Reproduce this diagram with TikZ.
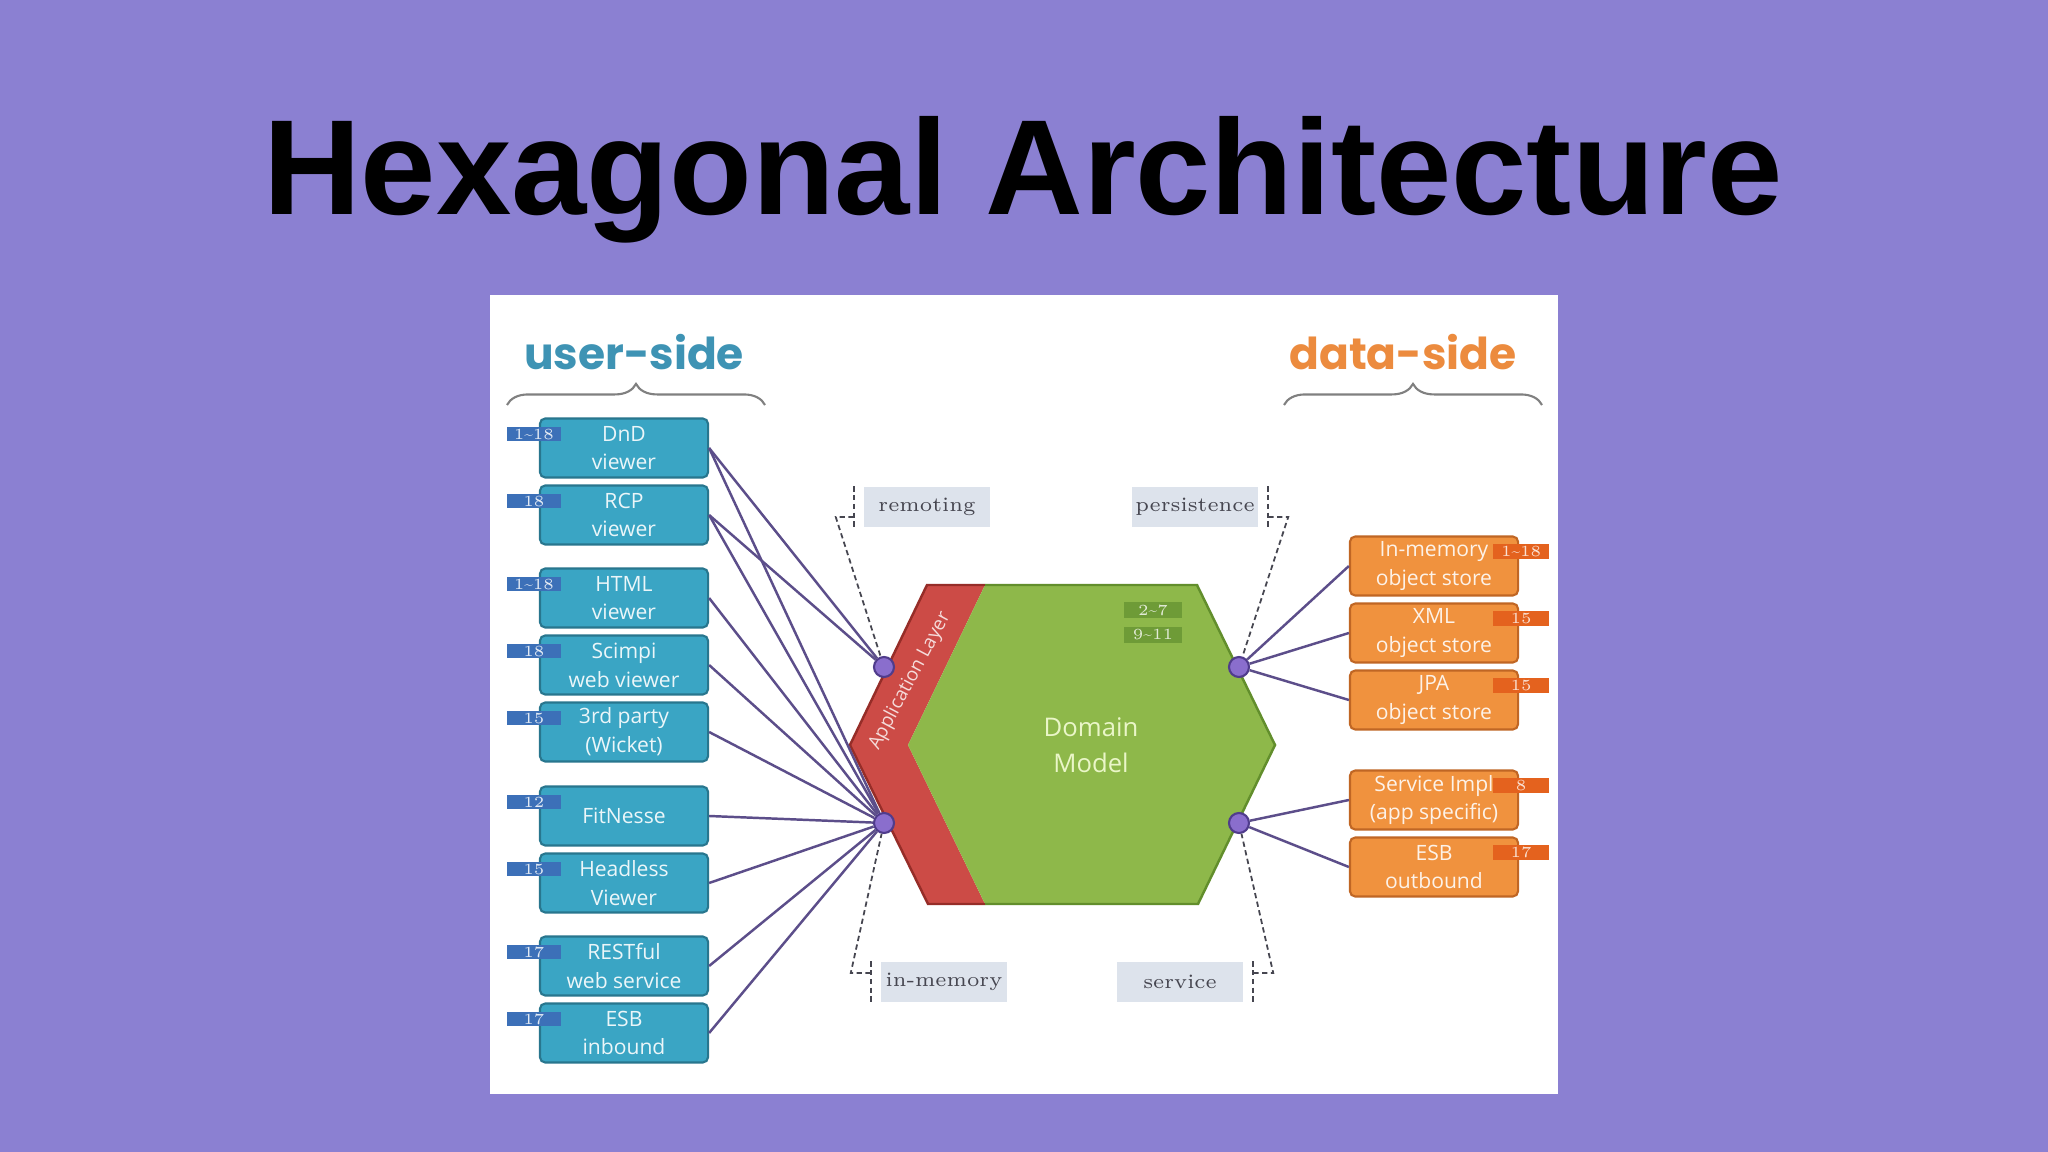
\documentclass[tikz,border=0pt]{standalone}
\usepackage{fontspec}
\usepackage{tikz}
\usetikzlibrary{calc}
\usetikzlibrary{decorations.pathreplacing}
\newfontfamily\titlefont{Liberation Sans}
\newfontfamily\boxfont{Open Sans}
\newfontfamily\headfont{Poppins}
\definecolor{slidepurple}{RGB}{139,128,210}
\definecolor{userteal}{RGB}{58,165,196}
\definecolor{userdark}{RGB}{40,118,142}
\definecolor{usertag}{RGB}{60,112,184}
\definecolor{userhead}{RGB}{62,147,180}
\definecolor{dataorange}{RGB}{240,146,62}
\definecolor{datadark}{RGB}{192,102,36}
\definecolor{datatag}{RGB}{228,98,30}
\definecolor{datahead}{RGB}{236,139,62}
\definecolor{domgreen}{RGB}{142,184,74}
\definecolor{domdark}{RGB}{98,142,44}
\definecolor{domtag}{RGB}{110,155,55}
\definecolor{domtext}{RGB}{234,246,200}
\definecolor{appred}{RGB}{204,75,70}
\definecolor{appdark}{RGB}{150,45,40}
\definecolor{portpurple}{RGB}{138,110,205}
\definecolor{portdark}{RGB}{80,60,140}
\definecolor{wirepurple}{RGB}{92,78,138}
\definecolor{labelgray}{RGB}{221,227,236}
\definecolor{labeltext}{RGB}{70,70,80}
\newcommand{\ubox}[4]{%
  \node[userbox] (#1) at (624,#2) {#4};
  \node[usertag] at ($(#1.north west)+(-5,17)$) {#3};%
}
\newcommand{\dbox}[4]{%
  \node[databox] (#1) at (1434,#2) {#4};
  \node[datatag] at ($(#1.north east)+(2,16)$) {#3};%
}

\begin{document}
\begin{tikzpicture}[x=0.01cm,y=-0.01cm,
    userbox/.style={draw=userdark,fill=userteal,line width=0.6pt,
      rounded corners=1.5pt,minimum width=1.68cm,minimum height=0.59cm,
      inner sep=0pt,align=center,text=white!90!userteal,
      font=\boxfont\fontsize{6}{8.2}\selectfont},
    databox/.style={userbox,draw=datadark,fill=dataorange,
      text=white!88!dataorange},
    usertag/.style={fill=usertag,minimum width=0.54cm,minimum height=0.14cm,
      inner sep=0pt,text=white!85!usertag,font=\fontsize{4.4}{4.6}\selectfont},
    datatag/.style={usertag,fill=datatag,minimum width=0.56cm,
      minimum height=0.15cm,text=white!80!datatag},
    domtag/.style={usertag,fill=domtag,minimum width=0.57cm,
      minimum height=0.15cm,text=white!80!domtag},
    port/.style={circle,draw=portdark,fill=portpurple,line width=0.6pt,
      minimum size=0.2cm,inner sep=0pt},
    wire/.style={wirepurple,line width=0.7pt},
    bracket/.style={labeltext,line width=0.5pt,dash pattern=on 1.5pt off 1pt},
    layer/.style={fill=labelgray,minimum width=1.25cm,minimum height=0.4cm,
      inner sep=0pt,text=labeltext,font=\fontsize{5.8}{7}\selectfont},
    side/.style={anchor=base,font=\headfont\bfseries\fontsize{12.5}{15}\selectfont}]
  % slide and panel
  \fill[slidepurple] (0,0) rectangle (2048,1152);
  \node[anchor=base,font=\titlefont\bfseries\fontsize{38.5}{45}\selectfont]
    (title) at (1023,215) {Hexagonal Architecture};
  \fill[white] (490,295) rectangle (1558,1094);
  % headings
  \node[side,text=userhead] (user) at (634,370) {user-side};
  \node[side,text=datahead] (data) at (1403,370) {data-side};
  \draw[gray,line width=0.6pt,decorate,decoration={brace,amplitude=6pt}]
    (507,405) -- (765,405);
  \draw[gray,line width=0.6pt,decorate,decoration={brace,amplitude=6pt}]
    (1284,405) -- (1542,405);
  % the hexagon
  \fill[appred] (927,585) -- (850,745) -- (928,904) -- (985,904)
    -- (908,745) -- (985,585) -- cycle;
  \fill[domgreen] (985,585) -- (1197,585) -- (1275,745) -- (1198,904)
    -- (985,904) -- (908,745) -- cycle;
  \draw[appdark,line width=0.7pt] (985,585) -- (927,585) -- (850,745)
    -- (928,904) -- (985,904);
  \draw[domdark,line width=0.7pt] (985,585) -- (1197,585) -- (1275,745)
    -- (1198,904) -- (985,904);
  \node[rotate=62,text=white!80!appred,font=\boxfont\fontsize{5.4}{6}\selectfont]
    (app) at (910,681) {Application Layer};
  \node[align=center,text=domtext,
        font=\boxfont\fontsize{7.3}{10.2}\selectfont] (domain) at (1091,745)
    {Domain\\Model};
  \node[domtag] (dt1) at (1153,610) {2\textasciitilde7};
  \node[domtag] (dt2) at (1153,635) {9\textasciitilde11};
  % user-side adapters
  \ubox{dnd}{448}{1\textasciitilde18}{DnD\\viewer}
  \ubox{rcp}{515}{18}{RCP\\viewer}
  \ubox{html}{598}{1\textasciitilde18}{HTML\\viewer}
  \ubox{scimpi}{665}{18}{Scimpi\\web viewer}
  \ubox{wicket}{732}{15}{3rd party\\(Wicket)}
  \ubox{fitnesse}{816}{12}{FitNesse}
  \ubox{headless}{883}{15}{Headless\\Viewer}
  \ubox{rest}{966}{17}{RESTful\\web service}
  \ubox{esbin}{1033}{17}{ESB\\inbound}
  % data-side adapters
  \dbox{inmem}{566}{1\textasciitilde18}{In-memory\\object store}
  \dbox{xml}{633}{15}{XML\\object store}
  \dbox{jpa}{700}{15}{JPA\\object store}
  \dbox{svc}{800}{8}{Service Impl\\(app specific)}
  \dbox{esbout}{867}{17}{ESB\\outbound}
  % ports
  \node[port] (remport) at (884,667) {};
  \node[port] (memport) at (884,823) {};
  \node[port] (perport) at (1239,667) {};
  \node[port] (svcport) at (1239,823) {};
  \foreach \b in {dnd,rcp}
    \draw[wire] (\b.east) -- (remport);
  \foreach \b in {dnd,rcp,html,scimpi,wicket,fitnesse,headless,rest,esbin}
    \draw[wire] (\b.east) -- (memport);
  \foreach \b in {inmem,xml,jpa}
    \draw[wire] (\b.west) -- (perport);
  \foreach \b in {svc,esbout}
    \draw[wire] (\b.west) -- (svcport);
  % port labels
  \node[layer] (remoting) at (927,507) {remoting};
  \node[layer] (persistence) at (1195,507) {persistence};
  \node[layer] (inmemory) at (944,982) {in-memory};
  \node[layer] (service) at (1180,982) {service};
  \draw[bracket] ($(remoting.north west)+(-10,0)$)
    -- ($(remoting.south west)+(-10,0)$);
  \draw[bracket] ($(remoting.west)+(-10,10)$) -- ++(-18,0) -- (remport);
  \draw[bracket] ($(persistence.north east)+(10,0)$)
    -- ($(persistence.south east)+(10,0)$);
  \draw[bracket] ($(persistence.east)+(10,10)$) -- ++(20,0) -- (perport);
  \draw[bracket] ($(inmemory.north west)+(-10,0)$)
    -- ($(inmemory.south west)+(-10,0)$);
  \draw[bracket] ($(inmemory.west)+(-10,-9)$) -- ++(-20,0) -- (memport);
  \draw[bracket] ($(service.north east)+(10,0)$)
    -- ($(service.south east)+(10,0)$);
  \draw[bracket] ($(service.east)+(10,-9)$) -- ++(20,0) -- (svcport);
\end{tikzpicture}
\end{document}
